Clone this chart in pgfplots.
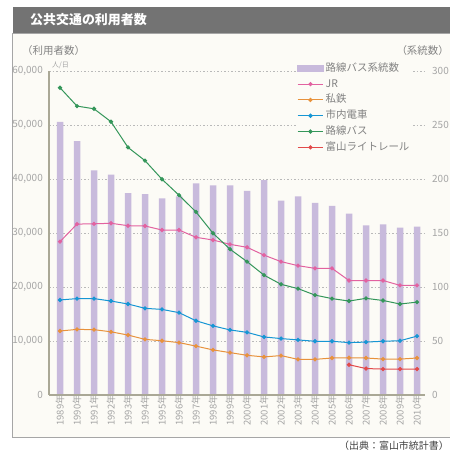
\documentclass[border=0pt]{standalone}
\usepackage{pgfplots}
\pgfplotsset{compat=1.18}
\usepackage{fontspec}
\setmainfont{Noto Sans CJK JP}
\definecolor{barc}{RGB}{200,186,220}
\definecolor{jrc}{RGB}{226,98,160}
\definecolor{shc}{RGB}{232,146,60}
\definecolor{trc}{RGB}{22,150,212}
\definecolor{busc}{RGB}{52,150,90}
\definecolor{lrc}{RGB}{226,74,74}
\definecolor{bg}{RGB}{252,251,246}
\definecolor{axc}{RGB}{170,168,150}
\definecolor{tickc}{RGB}{165,165,165}
\definecolor{labc}{RGB}{130,130,130}
\definecolor{titlec}{RGB}{115,115,115}
\begin{document}
\begin{tikzpicture}[x=1bp,y=1bp]
\useasboundingbox (0,0) rectangle (450,451);
\fill[white] (0,0) rectangle (450,451);
\fill[titlec] (12.5,418) rectangle (455,444);
\filldraw[fill=bg, draw=gray!70, line width=0.8bp] (12.5,14) rectangle (460,418);
\node[anchor=west, text=white, inner sep=0, font=\fontsize{13}{15}\selectfont\bfseries] at (30,431) {公共交通の利用者数};
\node[anchor=west, text=labc, inner sep=0, font=\fontsize{10.5}{12}\selectfont] at (22,400) {（利用者数）};
\node[anchor=east, text=labc, inner sep=0, font=\fontsize{10.5}{12}\selectfont] at (449,400) {（系統数）};
\node[anchor=west, text=tickc, inner sep=0, font=\fontsize{7}{8}\selectfont] at (52,386) {人/日};
\node[anchor=east, text=black!75, inner sep=0, font=\fontsize{10}{12}\selectfont] at (449,5) {（出典：富山市統計書）};

\begin{axis}[at={(49bp,56bp)}, anchor=south west, scale only axis,
  width=376bp, height=324bp,
  xmin=-0.647, xmax=21.47, ymin=0, ymax=300,
  axis x line=none, axis y line*=right, y axis line style={draw=none},
  xtick=\empty, ytick={0,50,...,300}, major tick length=0pt,
  ymajorgrids, grid style={dash pattern=on 1.5bp off 2bp, gray!55, line width=0.6bp},
  yticklabel style={anchor=west, inner sep=0pt, xshift=7bp, text=tickc, font=\fontsize{10}{12}\selectfont},
  /pgf/number format/assume math mode=true]
\addplot[ybar, bar width=6.5bp, fill=barc, draw=none] coordinates {
(0,253) (1,235) (2,208) (3,204) (4,187) (5,186) (6,182) (7,184) (8,196) (9,194) (10,194)
(11,189) (12,199) (13,180) (14,184) (15,178) (16,175) (17,168) (18,157) (19,158) (20,155) (21,156)};
\end{axis}

\begin{axis}[at={(49bp,56bp)}, anchor=south west, scale only axis,
  width=376bp, height=324bp,
  xmin=-0.647, xmax=21.47, ymin=0, ymax=60000,
  axis y line*=left, axis x line*=bottom,
  axis line style={axc, line width=1.2bp},
  ytick={0,10000,...,60000}, major tick length=0pt,
  scaled y ticks=false,
  xtick={0,...,21},
  xticklabels={1989年,1990年,1991年,1992年,1993年,1994年,1995年,1996年,1997年,1998年,1999年,2000年,2001年,2002年,2003年,2004年,2005年,2006年,2007年,2008年,2009年,2010年},
  xticklabel style={rotate=90, anchor=east, inner sep=0pt, yshift=0bp, text=tickc, font=\fontsize{9.5}{11}\selectfont},
  yticklabel style={anchor=east, inner sep=0pt, xshift=-6bp, text=tickc, font=\fontsize{10}{12}\selectfont},
  /pgf/number format/.cd, 1000 sep={,}, assume math mode=true, /pgfplots/.cd,
  every axis plot/.append style={line width=1bp, mark=*, mark size=1.6bp},
  legend image code/.code={\draw[mark repeat=2,mark phase=2] plot coordinates {(0bp,0bp)(12.75bp,0bp)(25.5bp,0bp)};},
  legend style={at={(axis description cs:0.657,1.035)}, anchor=north west, fill=bg, draw=none,
    font=\fontsize{10.5}{12}\selectfont, text=labc, inner sep=1bp, row sep=0.8bp,
    nodes={inner sep=2bp, text height=8.5bp, text depth=2.5bp}},
  legend cell align=left]
\addlegendimage{legend image code/.code={\fill[barc] (0bp,-2.8bp) rectangle (25.5bp,2.8bp);}}
\addlegendentry{路線バス系統数}
\addplot[jrc, mark options={fill=jrc}] coordinates {
(0,28400) (1,31650) (2,31700) (3,31800) (4,31350) (5,31300) (6,30550) (7,30550) (8,29200) (9,28700) (10,27900)
(11,27350) (12,25900) (13,24700) (14,23950) (15,23450) (16,23450) (17,21200) (18,21200) (19,21200) (20,20300) (21,20300)};
\addlegendentry{JR}
\addplot[shc, mark options={fill=shc}] coordinates {
(0,11850) (1,12150) (2,12100) (3,11700) (4,11100) (5,10300) (6,10050) (7,9700) (8,9050) (9,8350) (10,7850)
(11,7350) (12,7050) (13,7300) (14,6600) (15,6600) (16,6850) (17,6900) (18,6850) (19,6650) (20,6650) (21,6850)};
\addlegendentry{私鉄}
\addplot[trc, mark options={fill=trc}] coordinates {
(0,17600) (1,17850) (2,17850) (3,17400) (4,16850) (5,16050) (6,15850) (7,15250) (8,13750) (9,12800) (10,12050)
(11,11600) (12,10750) (13,10450) (14,10200) (15,9950) (16,9950) (17,9700) (18,9800) (19,9950) (20,10050) (21,10900)};
\addlegendentry{市内電車}
\addplot[busc, mark options={fill=busc}] coordinates {
(0,56900) (1,53500) (2,53000) (3,50600) (4,45850) (5,43400) (6,39950) (7,37000) (8,33900) (9,29950) (10,27000)
(11,24700) (12,22200) (13,20500) (14,19700) (15,18500) (16,17850) (17,17400) (18,17900) (19,17500) (20,16850) (21,17200)};
\addlegendentry{路線バス}
\addplot[lrc, mark options={fill=lrc}] coordinates {
(17,5600) (18,4900) (19,4800) (20,4800) (21,4800)};
\addlegendentry{富山ライトレール}
\end{axis}
\end{tikzpicture}
\end{document}
